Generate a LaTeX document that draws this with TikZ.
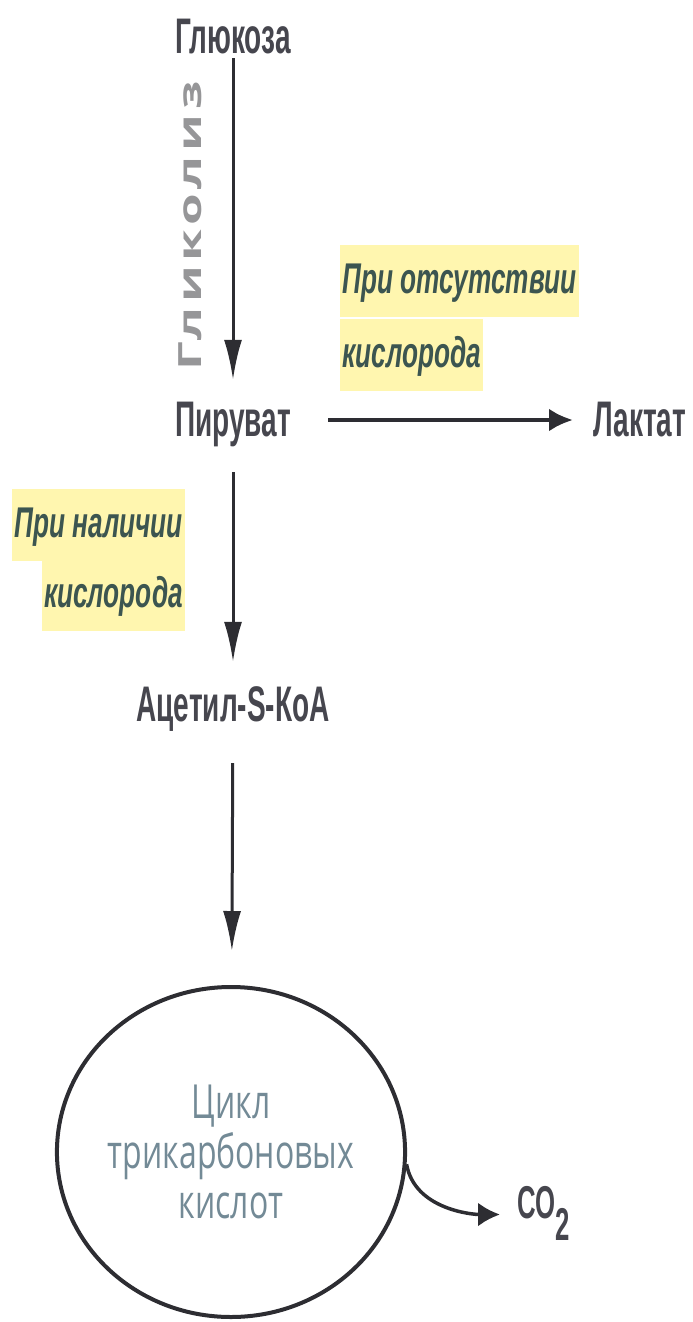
\documentclass[tikz,border=0pt]{standalone}
\usepackage{fontspec}
\setmainfont{Liberation Sans}
\newfontfamily\chemfont{Liberation Sans}[FakeStretch=0.56]
\newfontfamily\notefont{Liberation Sans}[FakeStretch=0.61]
\newfontfamily\cyclefont{Open Sans}[FakeStretch=0.68]
\newfontfamily\glyfont{Open Sans}[FakeStretch=1.6,LetterSpace=15]
\usetikzlibrary{arrows.meta,positioning,shapes.geometric}
\definecolor{chemgray}{RGB}{70,70,78}
\definecolor{notegreen}{RGB}{60,85,80}
\definecolor{hlyellow}{RGB}{255,246,175}
\definecolor{cyclecolor}{RGB}{115,138,150}
\definecolor{glygray}{RGB}{150,150,152}
\definecolor{arrowgray}{RGB}{45,45,50}
\begin{document}
\begin{tikzpicture}[x=1pt,y=-1pt,
  chem/.style={text=chemgray,font=\chemfont\bfseries\fontsize{50}{56}\selectfont,
    inner sep=0pt,text height=36pt,text depth=4pt,anchor=base},
  note/.style={fill=hlyellow,text=notegreen,font=\notefont\bfseries\itshape\fontsize{43}{48}\selectfont,
    text height=32pt,text depth=8pt,inner xsep=2pt,inner ysep=16pt},
  flow/.style={-{Latex[length=40pt,width=18pt]},line width=3pt,draw=arrowgray},
  sideflow/.style={-{Latex[length=24pt,width=23pt]},line width=4.5pt,draw=arrowgray},
  gasflow/.style={-{Latex[length=22pt,width=24pt]},line width=3.5pt,draw=arrowgray}]
\useasboundingbox (0,0) rectangle (693,1322);
% substances
\node[chem] (glucose) at (233,53) {Глюкоза};
\node[chem] (pyruvate) at (233,436) {Пируват};
\node[chem,anchor=base west] (lactate) at (593,436) {Лактат};
\node[chem] (acetyl) at (233,721) {Ацетил-S-КоА};
\node[draw=arrowgray,line width=4pt,ellipse,minimum width=342pt,minimum height=330pt,inner sep=0pt,
  align=center,text=cyclecolor,font=\cyclefont\fontsize{47}{50}\selectfont] (tca) at (231,1152)
  {Цикл\\трикарбоновых\\кислот};
\node[chem,anchor=base west,text height=33pt,text depth=26pt,
  font=\chemfont\bfseries\fontsize{46}{52}\selectfont] (co2) at (517,1218) {CO\raisebox{-22pt}{2}};
\node[rotate=90,text=glygray,font=\glyfont\bfseries\fontsize{32}{36}\selectfont,inner sep=0pt] (glycolysis) at (190,226) {Гликолиз};
% conditions
\node[note,anchor=base west] (absent1) at (340,293) {При отсутствии};
\node[note,anchor=base west] (absent2) at (340,367) {кислорода};
\node[note,anchor=base east] (present1) at (185,537) {При наличии};
\node[note,anchor=base east] (present2) at (185,607) {кислорода};
% arrows
\draw[flow,shorten <=1pt,shorten >=20pt] (glucose) -- (pyruvate);
\draw[sideflow,shorten <=37pt,shorten >=20pt] (pyruvate) -- (lactate);
\draw[flow,shorten <=32pt,shorten >=23pt] (pyruvate) -- (acetyl);
\draw[flow,shorten <=38pt,shorten >=34pt] (acetyl) -- (tca);
\draw[gasflow,shorten >=17pt] (tca.-4) .. controls +(8,45) and +(-45,0) .. (co2.west);
\end{tikzpicture}
\end{document}
